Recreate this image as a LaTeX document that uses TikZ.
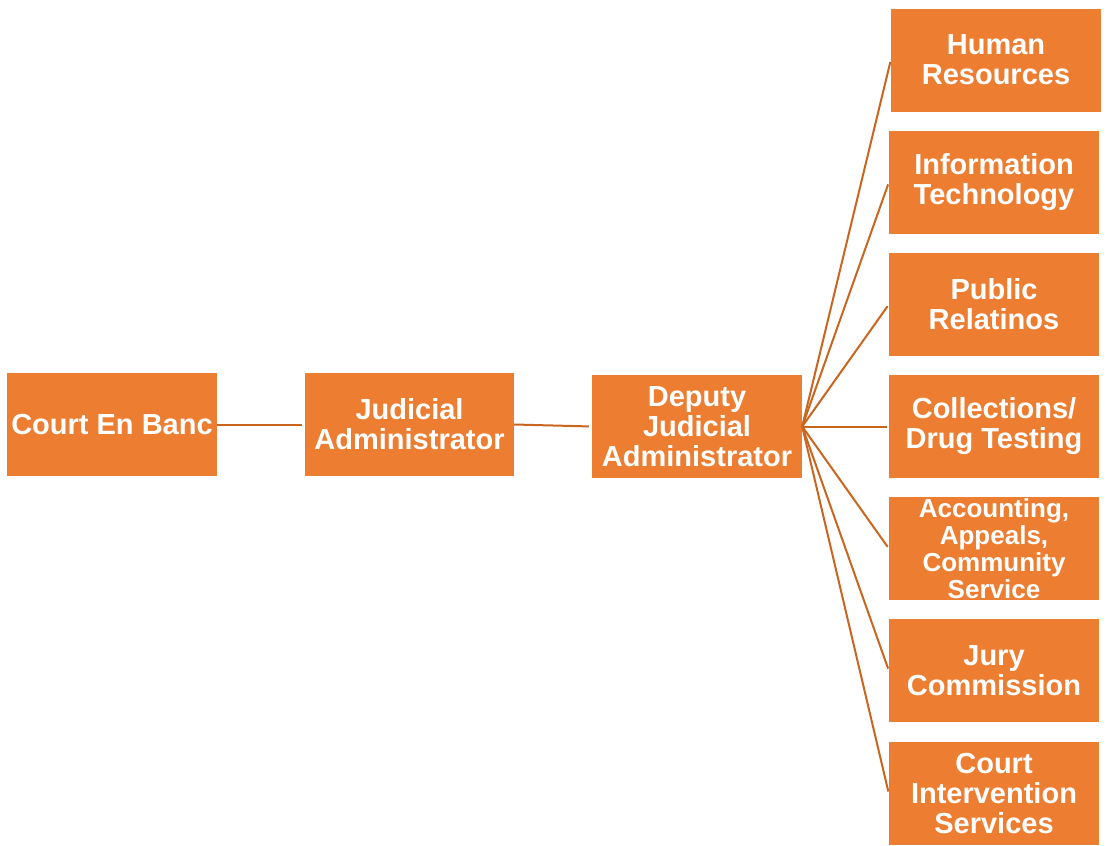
\documentclass[tikz,border=0pt]{standalone}
\usepackage{fontspec}
\setmainfont{Liberation Sans}
\definecolor{boxor}{HTML}{ED7D31}
\definecolor{lineor}{HTML}{C9651F}
\begin{document}
\begin{tikzpicture}[x=1pt,y=-1pt,
  unit/.style={fill=boxor, draw=none, minimum width=210pt, minimum height=103pt,
    inner sep=0pt, align=center, text=white,
    font=\fontsize{29}{30}\selectfont\bfseries},
  link/.style={draw=lineor, line width=2pt}]
\useasboundingbox (0,0) rectangle (1106,846);
\node[unit] (court) at (112,424.5) {Court En Banc};
\node[unit, minimum width=209pt] (jud) at (409.5,424.5) {Judicial\\Administrator};
\node[unit] (dep) at (697,426.5) {Deputy\\Judicial\\Administrator};
\node[unit] (hr) at (996,60) {Human\\Resources};
\node[unit] (it) at (994,182.5) {Information\\Technology};
\node[unit] (pr) at (994,304.5) {Public\\Relatinos};
\node[unit] (coll) at (994,426.5) {Collections/\\Drug Testing};
\node[unit, font=\fontsize{26}{27}\selectfont\bfseries] (acc) at (994,548.5) {Accounting,\\Appeals,\\Community\\Service};
\node[unit] (jury) at (994,670.5) {Jury\\Commission};
\node[unit] (cis) at (994,793.5) {Court\\Intervention\\Services};
\draw[link, shorten >=3pt] (court.east) -- (jud.west);
\draw[link, shorten >=3pt] (jud.east) -- (dep.west);
\foreach \t in {hr,it,pr,coll,acc,jury,cis}
  \draw[link, shorten >=2pt] (dep.east) -- (\t.west);
\end{tikzpicture}
\end{document}
